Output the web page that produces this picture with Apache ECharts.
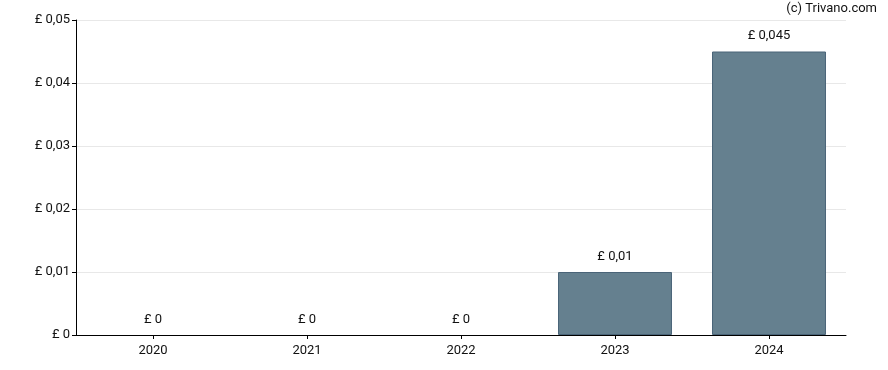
<!DOCTYPE html>
<html>
<head>
<meta charset="utf-8">
<script src="https://cdn.jsdelivr.net/npm/echarts@6/dist/echarts.min.js"></script>
<style>html,body{margin:0;padding:0;background:#fff}#c{width:888px;height:370px}</style>
</head>
<body>
<div id="c"></div>
<script>
var categories = ['2020', '2021', '2022', '2023', '2024'];
var values = [0, 0, 0, 0.01, 0.045];
var yTicks = [0, 0.01, 0.02, 0.03, 0.04, 0.05];

function fmt(v) {
  return '£ ' + String(+v.toFixed(4)).replace('.', ',');
}

var barData = values.map(function (v) {
  return v === 0 ? {value: v, itemStyle: {borderWidth: 0, opacity: 0}} : v;
});

var chart = echarts.init(document.getElementById('c'), null, {renderer: 'canvas'});
chart.setOption({
  animation: false,
  textStyle: {fontFamily: 'Roboto'},
  graphic: [{
    type: 'text', right: 11, top: 2,
    style: {text: '(c) Trivano.com', fill: '#111', font: '13px Roboto'}
  }],
  grid: {left: 76, right: 42, top: 20, bottom: 35, containLabel: false},
  xAxis: {
    type: 'category',
    data: categories,
    axisLine: {lineStyle: {color: '#000', width: 1}},
    axisTick: {show: true, alignWithLabel: true, length: 4, lineStyle: {color: '#000'}},
    axisLabel: {color: '#111', fontSize: 13, margin: 9, fontFamily: 'Roboto'},
    splitLine: {show: false}
  },
  yAxis: {
    type: 'value',
    min: yTicks[0],
    max: yTicks[yTicks.length - 1],
    interval: 0.01,
    axisLine: {show: true, lineStyle: {color: '#000', width: 1}},
    axisTick: {show: true, length: 4, lineStyle: {color: '#000'}},
    axisLabel: {color: '#111', fontSize: 13, margin: 6, fontFamily: 'Roboto', formatter: fmt},
    splitLine: {show: true, lineStyle: {color: '#e8e8e8', width: 1}}
  },
  series: [{
    type: 'bar',
    data: barData,
    barWidth: '74%',
    itemStyle: {color: '#65808f', borderColor: '#4a6478', borderWidth: 1},
    label: {
      show: true, position: 'top', distance: 9,
      color: '#111', fontSize: 13, fontFamily: 'Roboto', opacity: 1,
      formatter: function (p) { return fmt(p.value); }
    }
  }]
});
</script>
</body>
</html>
